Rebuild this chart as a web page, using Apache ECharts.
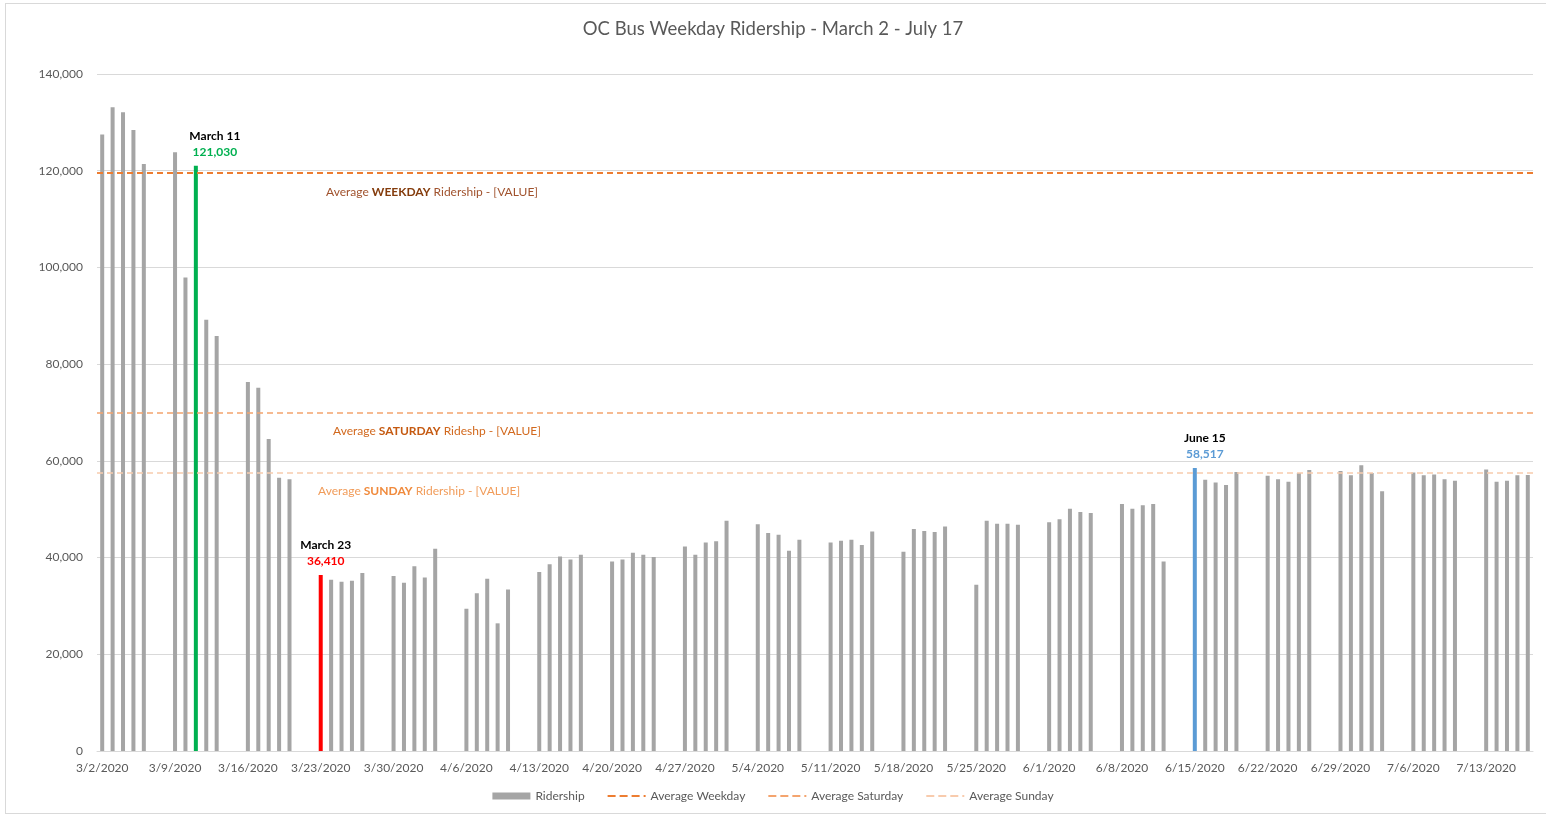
<!DOCTYPE html>
<html>
<head>
<meta charset="utf-8">
<script src="https://cdn.jsdelivr.net/npm/echarts@6/dist/echarts.min.js"></script>
<style>
html,body{margin:0;padding:0;background:#fff;overflow:hidden;}
#frame{position:absolute;left:5px;top:3px;width:1600px;height:811px;border:1px solid #D9D9D9;box-sizing:border-box;}
#chart{position:absolute;left:0;top:0;width:1546px;height:817px;}
</style>
</head>
<body>
<div id="frame"></div>
<div id="chart"></div>
<script>
// ---- Data ----
const startDate = '2020-03-02';
const endDate = '2020-07-17';
// Weekday ridership, Mon–Fri in order from 3/2/2020 to 7/17/2020
const ridership = [
  127500, 133100, 132100, 128400, 121400,
  123800, 97900, 121030, 89200, 85800,
  76300, 75100, 64500, 56500, 56200,
  36410, 35400, 35000, 35200, 36800,
  36200, 34800, 38200, 35900, 41800,
  29400, 32600, 35600, 26400, 33400,
  37000, 38600, 40200, 39600, 40600,
  39200, 39600, 41000, 40600, 40100,
  42300, 40600, 43100, 43400, 47600,
  46900, 45100, 44700, 41400, 43700,
  43100, 43500, 43700, 42600, 45400,
  41200, 45900, 45500, 45300, 46400,
  34400, 47600, 47000, 47000, 46800,
  47300, 47900, 50100, 49400, 49200,
  51100, 50100, 50800, 51100, 39200,
  58517, 56100, 55500, 55000, 57700,
  56900, 56200, 55700, 57500, 58100,
  57900, 57000, 59100, 57500, 53700,
  57600, 57000, 57200, 56200, 55900,
  58200, 55700, 55900, 57000, 57100
];
const avgWeekday = 119500;
const avgSaturday = 69900;
const avgSunday = 57500;
const highlights = [
  { date: '3/11/2020', title: 'March 11', color: '#00B050', offset: [19, 0] },
  { date: '3/23/2020', title: 'March 23', color: '#FF0000', offset: [5, 0] },
  { date: '6/15/2020', title: 'June 15', color: '#5B9BD5', offset: [10, 0] }
];
const yTicks = [0, 20000, 40000, 60000, 80000, 100000, 120000, 140000];

// ---- Build calendar categories ----
const categories = [];
const values = [];
(function(){
  let d = new Date(startDate + 'T00:00:00');
  const end = new Date(endDate + 'T00:00:00');
  let k = 0;
  while (d <= end) {
    categories.push((d.getMonth()+1) + '/' + d.getDate() + '/' + d.getFullYear());
    const wd = d.getDay();
    if (wd >= 1 && wd <= 5) { values.push(ridership[k++]); } else { values.push(null); }
    d.setDate(d.getDate()+1);
  }
})();

const fmt = v => v.toLocaleString('en-US');
const FONT = 'Lato, "Open Sans", sans-serif';

const barData = values.map((v, i) => {
  if (v === null) return '-';
  const h = highlights.find(h => h.date === categories[i]);
  if (!h) return v;
  return {
    value: v,
    itemStyle: { color: h.color },
    label: {
      show: true, position: 'top', distance: 6, offset: h.offset,
      formatter: '{t|' + h.title + '}\n{v|' + fmt(v) + '}',
      rich: {
        t: { fontFamily: FONT, fontWeight: 'bold', fontSize: 12, color: '#000', lineHeight: 16 },
        v: { fontFamily: FONT, fontWeight: 'bold', fontSize: 12, color: h.color, lineHeight: 16 }
      }
    }
  };
});

function avgLine(name, val, color, width, labelParts, padLeft, dist) {
  return {
    name: name, type: 'line', data: [], symbol: 'none', showSymbol: false,
    lineStyle: { type: 'dashed', color: color, width: width },
    itemStyle: { color: color },
    markLine: {
      silent: true, symbol: 'none', animation: false,
      lineStyle: { type: [6, 4], color: color, width: width },
      data: [{ yAxis: val }],
      label: {
        show: true, position: 'insideStartBottom', distance: dist,
        padding: [0, 0, 0, padLeft],
        formatter: '{a|Average }{b|' + labelParts.bold + '}{a| ' + labelParts.rest + '}',
        rich: {
          a: { fontFamily: FONT, fontSize: 12, color: labelParts.color },
          b: { fontFamily: FONT, fontSize: 12, fontWeight: 'bold', color: labelParts.boldColor }
        }
      }
    }
  };
}

const chart = echarts.init(document.getElementById('chart'));
chart.setOption({
  animation: false,
  backgroundColor: 'transparent',
  title: {
    text: 'OC Bus Weekday Ridership - March 2 - July 17',
    left: 'center', top: 15,
    textStyle: { fontFamily: FONT, fontSize: 18.5, fontWeight: 'normal', color: '#595959' }
  },
  legend: {
    bottom: 10, left: 'center', itemGap: 22, itemWidth: 38, itemHeight: 7,
    textStyle: { fontFamily: FONT, fontSize: 12, color: '#595959' },
    data: [
      { name: 'Ridership', icon: 'rect' },
      { name: 'Average Weekday', itemStyle: { opacity: 0 } },
      { name: 'Average Saturday', itemStyle: { opacity: 0 } },
      { name: 'Average Sunday', itemStyle: { opacity: 0 } }
    ]
  },
  grid: { left: 97, right: 13, top: 74, bottom: 66, containLabel: false },
  xAxis: {
    type: 'category', data: categories, boundaryGap: true,
    axisLine: { lineStyle: { color: '#D9D9D9' } },
    axisTick: { interval: 6, length: 5, lineStyle: { color: '#D9D9D9' } },
    axisLabel: { interval: 6, fontFamily: FONT, fontSize: 12, color: '#595959', margin: 11 }
  },
  yAxis: {
    type: 'value', min: 0, max: 140000, interval: 20000,
    axisLine: { show: false }, axisTick: { show: false },
    splitLine: { lineStyle: { color: '#D9D9D9' } },
    axisLabel: { fontFamily: FONT, fontSize: 12, color: '#595959', margin: 14,
      formatter: v => yTicks.includes(v) ? fmt(v) : '' }
  },
  series: [
    {
      name: 'Ridership', type: 'bar', data: barData, barWidth: 4,
      itemStyle: { color: '#A5A5A5' }, z: 2
    },
    avgLine('Average Weekday', avgWeekday, '#ED7D31', 2,
      { bold: 'WEEKDAY', rest: 'Ridership - [VALUE]', color: '#A0522D', boldColor: '#843C0C' }, 216, 13),
    avgLine('Average Saturday', avgSaturday, '#F4A46E', 1.5,
      { bold: 'SATURDAY', rest: 'Rideshp - [VALUE]', color: '#D2691E', boldColor: '#C55A11' }, 224, 12),
    avgLine('Average Sunday', avgSunday, '#F8CBAD', 1.5,
      { bold: 'SUNDAY', rest: 'Ridership - [VALUE]', color: '#F19C5A', boldColor: '#F08A3C' }, 209, 12)
  ]
});
</script>
</body>
</html>
